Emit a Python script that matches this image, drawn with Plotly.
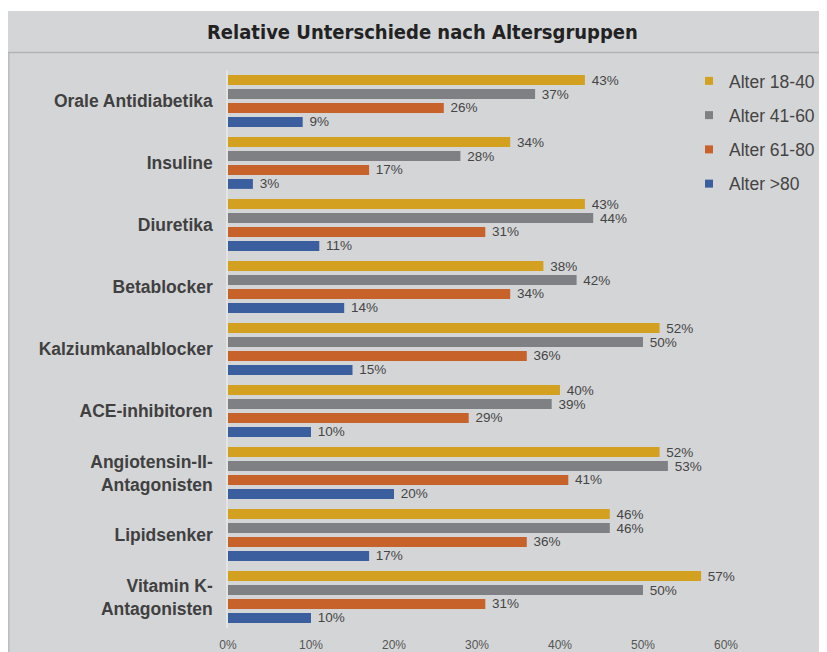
import plotly.graph_objects as go

categories = ["Orale Antidiabetika", "Insuline", "Diuretika", "Betablocker",
              "Kalziumkanalblocker", "ACE-inhibitoren", "Angiotensin-II-<br>Antagonisten",
              "Lipidsenker", "Vitamin K-<br>Antagonisten"]
series_names = ["Alter 18-40", "Alter 41-60", "Alter 61-80", "Alter >80"]
alter_18_40 = [43, 34, 43, 38, 52, 40, 52, 46, 57]
alter_41_60 = [37, 28, 44, 42, 50, 39, 53, 46, 50]
alter_61_80 = [26, 17, 31, 34, 36, 29, 41, 36, 31]
alter_80 = [9, 3, 11, 14, 15, 10, 20, 17, 10]
x_ticks = [0, 10, 20, 30, 40, 50, 60]
colors = ["#D4A01F", "#7F8083", "#C8622B", "#3A5E9E"]

# page body has an 8px margin; work in screen pixels and convert
OFF = 8
W, H = 827 - OFF, 652 - OFF
L, R, T, B = 228 - OFF, 101, 70 - OFF, 24
PW, PH = W - L - R, H - T - B

def px_x(px):
    return (px - OFF - L) / PW

def px_y(py):
    return (H - B - (py - OFF)) / PH

fig = go.Figure()
for name, vals, col in zip(series_names, [alter_18_40, alter_41_60, alter_61_80, alter_80], colors):
    fig.add_trace(go.Bar(
        y=categories, x=vals, orientation="h", name=name,
        marker=dict(color=col, line=dict(width=0)),
        text=[f"\u00a0{v}%" for v in vals], textposition="outside",
        constraintext="none",
        textfont=dict(family="Liberation Sans, Arial", size=13.5, color="#454545"),
        cliponaxis=False, showlegend=False, hoverinfo="x+y",
    ))
for name, col in zip(series_names, colors):
    fig.add_trace(go.Scatter(
        x=[None], y=[None], mode="markers", name=name, legendgroup=name,
        marker=dict(symbol="square", size=8, color=col), showlegend=True,
    ))

shapes = [
    dict(type="rect", xref="paper", yref="paper", x0=px_x(5), x1=px_x(840),
         y0=px_y(11), y1=px_y(670), fillcolor="#d4d5d7", line=dict(width=0), layer="below"),
    dict(type="line", xref="paper", yref="paper", x0=px_x(5), x1=px_x(840),
         y0=px_y(52.5), y1=px_y(52.5), line=dict(color="#b3b4b6", width=1.5), layer="below"),
    dict(type="line", xref="paper", yref="paper", x0=px_x(8.8), x1=px_x(8.8),
         y0=px_y(53), y1=px_y(670), line=dict(color="#bbbcbe", width=1.5), layer="below"),
]

fig.update_layout(
    width=W, height=H,
    margin=dict(l=L, r=R, t=T, b=B, pad=0, autoexpand=False),
    paper_bgcolor="white", plot_bgcolor="rgba(0,0,0,0)",
    barmode="group", bargap=0.10, bargroupgap=0.29,
    shapes=shapes,
    annotations=[dict(text="<b>Relative Unterschiede nach Altersgruppen</b>",
                      xref="paper", yref="paper", x=px_x(422), y=px_y(32),
                      xanchor="center", yanchor="middle", showarrow=False,
                      font=dict(family="DejaVu Sans Condensed, DejaVu Sans", size=20, color="#222222"))],
    legend=dict(x=px_x(689), y=px_y(63), xanchor="left", yanchor="top",
                bgcolor="rgba(0,0,0,0)", tracegroupgap=8.5,
                font=dict(family="Liberation Sans, Arial", size=17.5, color="#444444")),
    xaxis=dict(range=[0, 60], tickvals=x_ticks, ticktext=[f"{v}%" for v in x_ticks],
               showgrid=False, zeroline=False, showline=False, automargin=False,
               ticklabelstandoff=8,
               tickfont=dict(family="Liberation Sans, Arial", size=12, color="#555555")),
    yaxis=dict(autorange="reversed", showgrid=False, zeroline=False, automargin=False,
               showline=True, linecolor="#e4e4e4", linewidth=1.5,
               ticklabelstandoff=10,
               tickfont=dict(family="Liberation Sans, Arial", size=17.5, color="#404040", weight="bold")),
    font=dict(family="Liberation Sans, Arial"),
    hovermode="closest",
)

fig.write_html("out.html")
